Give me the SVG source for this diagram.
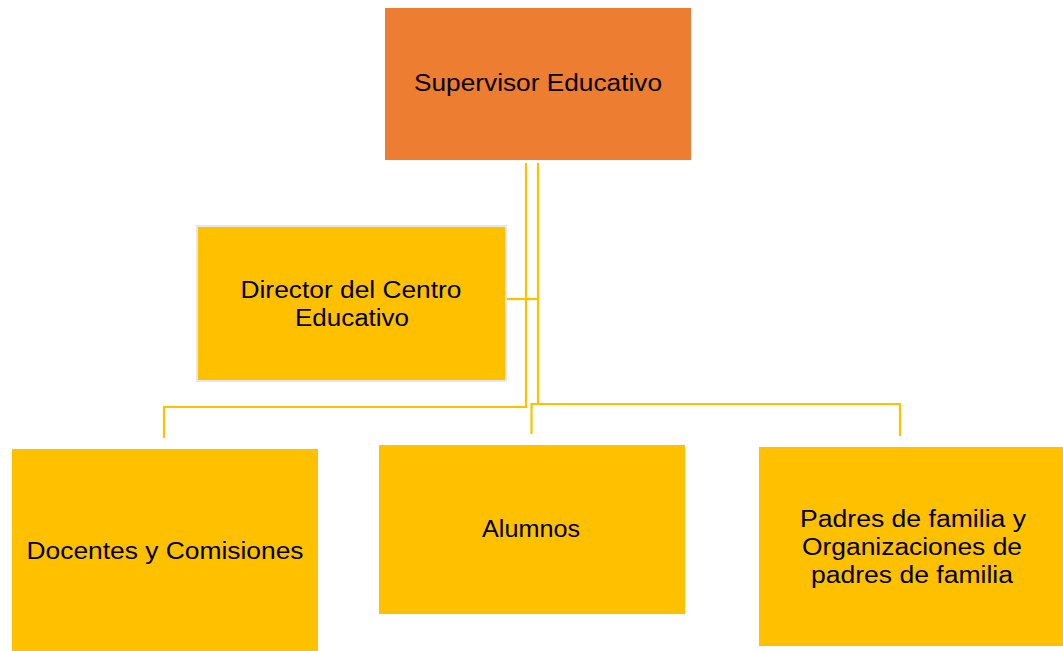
<svg xmlns="http://www.w3.org/2000/svg" width="1063" height="651" viewBox="0 0 1063 651">
<style>
.lbl{font-family:"Liberation Sans",Arial,sans-serif;font-size:23px;fill:#000;text-anchor:middle}
.gold{fill:#FFC000}
.conn{fill:none;stroke:#FFC000;stroke-width:2.2}
</style>
<rect width="1063" height="651" fill="#fff"/>
<g id="connectors">
<path class="conn" d="M526,163 V407 H164 V438"/>
<path class="conn" d="M538,163 V404 H900 V436"/>
<path class="conn" d="M538,404 H531.5 V434"/>
<path class="conn" d="M507,299 H538"/>
</g>
<g id="supervisor">
<rect x="385" y="8" width="306" height="152" fill="#ED7D31"/>
<text class="lbl" x="538" y="91" textLength="248" lengthAdjust="spacingAndGlyphs">Supervisor Educativo</text>
</g>
<g id="director">
<rect x="197" y="226" width="309" height="155" class="gold" stroke="#E6E6E6" stroke-width="2"/>
<text class="lbl" x="351" y="298" textLength="221" lengthAdjust="spacingAndGlyphs">Director del Centro</text>
<text class="lbl" x="352" y="326" textLength="114" lengthAdjust="spacingAndGlyphs">Educativo</text>
</g>
<g id="docentes">
<rect x="12" y="449" width="306" height="202" class="gold"/>
<text class="lbl" x="165" y="559" textLength="277" lengthAdjust="spacingAndGlyphs">Docentes y Comisiones</text>
</g>
<g id="alumnos">
<rect x="379" y="445" width="306" height="169" class="gold"/>
<text class="lbl" x="531" y="537" textLength="98" lengthAdjust="spacingAndGlyphs">Alumnos</text>
</g>
<g id="padres">
<rect x="759" y="447" width="304" height="199" class="gold"/>
<text class="lbl" x="913" y="527" textLength="226" lengthAdjust="spacingAndGlyphs">Padres de familia y</text>
<text class="lbl" x="912" y="555" textLength="220" lengthAdjust="spacingAndGlyphs">Organizaciones de</text>
<text class="lbl" x="912" y="583" textLength="202" lengthAdjust="spacingAndGlyphs">padres de familia</text>
</g>
</svg>
